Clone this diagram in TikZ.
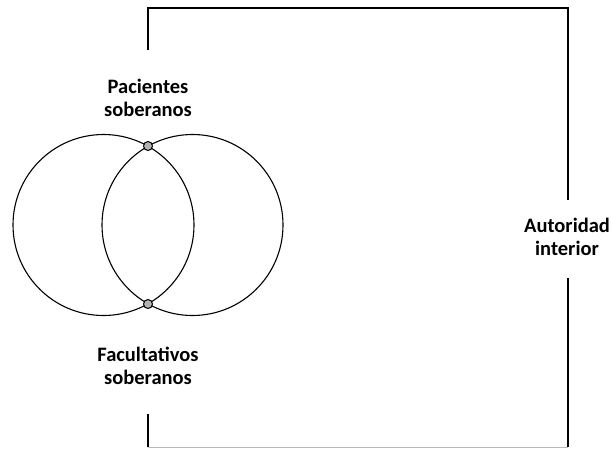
\documentclass[tikz,border=0pt]{standalone}
\usepackage{fontspec}
\setmainfont{Carlito}
\usepackage{tikz}
\usetikzlibrary{calc}

\begin{document}
\begin{tikzpicture}[x=1pt,y=-1pt]
\useasboundingbox (0,0) rectangle (613,448);
\tikzset{lbl/.style={align=center, font=\fontsize{20.5}{23}\selectfont\bfseries, inner sep=0pt},
  frame/.style={line width=2.2pt, line cap=butt},
  meet/.style={circle, draw, fill=gray!60, minimum size=9pt, inner sep=0pt, line width=1pt}}
% corners of the frame
\coordinate (TL) at (148,8);
\coordinate (TR) at (568,8);
\coordinate (BL) at (148,447);
\coordinate (BR) at (568,447);
\coordinate (L1) at (148,50);
\coordinate (L2) at (148,414);
\coordinate (R1) at (568,200);
\coordinate (R2) at (568,278);
% circles
\coordinate (O1) at (103.5,225);
\coordinate (O2) at (192.5,225);
\draw[line width=1.1pt] (O1) circle (90.5);
\draw[line width=1.1pt] (O2) circle (90.5);
\node[meet] (P) at (148,146) {};
\node[meet] (F) at (148,304) {};
% labels
\node[lbl] (pac) at (148,98) {Pacientes\\soberanos};
\node[lbl] (fac) at (148,366) {Facultativos\\soberanos};
\node[lbl] (aut) at (567,237) {Autoridad\\interior};
% frame
\draw[frame] (L1) -- (TL) -- (TR) -- (R1);
\draw[frame, line width=2.8pt] (R2) -- (BR);
\draw[frame] (L2) -- (BL);
\draw[gray!55, line width=0.8pt] (BL) -- (BR);
\end{tikzpicture}
\end{document}
